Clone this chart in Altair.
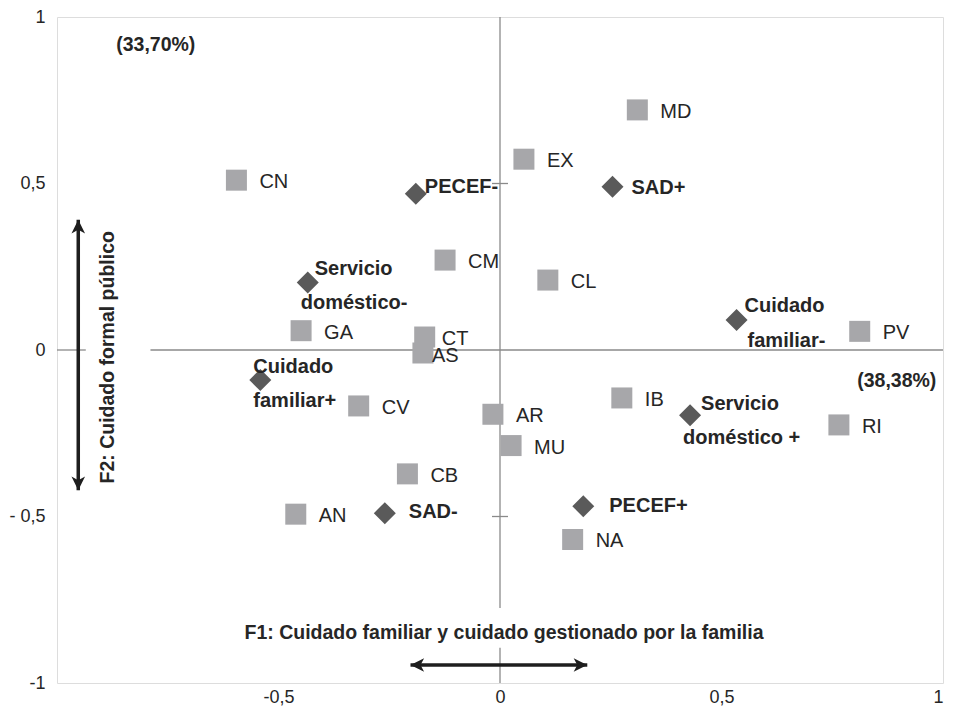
import altair as alt
import pandas as pd

# ---------------- data ----------------
region_codes = ["MD", "EX", "CN", "CM", "CL", "GA", "CT", "AS", "PV",
                "IB", "AR", "CV", "MU", "RI", "CB", "AN", "NA"]
region_f1 = [0.310, 0.054, -0.595, -0.124, 0.108, -0.449, -0.170, -0.174, 0.812,
             0.275, -0.016, -0.319, 0.025, 0.765, -0.209, -0.461, 0.164]
region_f2 = [0.721, 0.573, 0.510, 0.270, 0.210, 0.058, 0.039, -0.009, 0.056,
             -0.144, -0.193, -0.168, -0.287, -0.225, -0.372, -0.493, -0.569]

category_labels = ["PECEF-", "SAD+", "Servicio doméstico-", "Cuidado familiar-",
                   "Cuidado familiar+", "Servicio doméstico +", "SAD-", "PECEF+"]
category_f1 = [-0.190, 0.254, -0.434, 0.534, -0.541, 0.429, -0.260, 0.188]
category_f2 = [0.469, 0.490, 0.203, 0.090, -0.090, -0.196, -0.490, -0.469]

x_ticks = [-0.5, 0, 0.5, 1]
x_tick_labels = ["-0,5", "0", "0,5", "1"]
y_ticks = [-1, -0.5, 0, 0.5, 1]
y_tick_labels = ["-1", "- 0,5", "0", "0,5", "1"]

f1_title = "F1: Cuidado familiar y cuidado gestionado por la familia"
f2_title = "F2: Cuidado formal público"
f1_inertia = "(38,38%)"
f2_inertia = "(33,70%)"

# ---------------- styling / layout ----------------
FONT = "Liberation Sans"
TEXT_COLOR = "#262626"
SQUARE_COLOR = "#A7A7AA"
DIAMOND_COLOR = "#5A5A5A"
LINE_COLOR = "#8a8a8a"
ARROW_COLOR = "#1e1e1e"

# label offsets (px) for the category (diamond) labels, one entry per text line
category_label_offsets = {
    "PECEF-": [(9, -7)],
    "SAD+": [(19, 1)],
    "Servicio doméstico-": [(7, -13), (-7, 21)],
    "Cuidado familiar-": [(8, -14), (11, 21)],
    "Cuidado familiar+": [(-7, -13), (-7, 21)],
    "Servicio doméstico +": [(11, -11), (-7, 23)],
    "SAD-": [(24, -1)],
    "PECEF+": [(26, 0)],
}
region_label_offsets = {"CT": (17, 2), "AS": (9, 3)}
default_region_offset = (23, 2)

# annotation placements (data coordinates)
h_zero_segments = [(-1.0, -0.935), (-0.789, 1.0)]
v_zero_segments = [(1.0, -0.775), (-0.894, -1.0)]
half_ticks = [0.5, -0.5]
v_arrow = {"x": -0.952, "y1": 0.391, "y2": -0.421}
h_arrow = {"y": -0.946, "x1": -0.202, "x2": 0.197}


def label_expr(values, labels):
    expr = "''"
    for v, l in reversed(list(zip(values, labels))):
        expr = f"abs(datum.value - ({v})) < 1e-9 ? '{l}' : ({expr})"
    return expr


xs = alt.Scale(domain=[-1, 1], nice=False, zero=False)
ys = alt.Scale(domain=[-1, 1], nice=False, zero=False)

x_axis = alt.Axis(values=x_ticks, labelExpr=label_expr(x_ticks, x_tick_labels),
                  ticks=False, domain=False, grid=False, title=None,
                  labelFont=FONT, labelFontSize=18, labelColor=TEXT_COLOR,
                  labelPadding=5)
y_axis = alt.Axis(values=y_ticks, labelExpr=label_expr(y_ticks, y_tick_labels),
                  ticks=False, domain=False, grid=False, title=None,
                  labelFont=FONT, labelFontSize=18, labelColor=TEXT_COLOR,
                  labelPadding=12)


def X(field="x"):
    return alt.X(f"{field}:Q", scale=xs, axis=x_axis)


def Y(field="y"):
    return alt.Y(f"{field}:Q", scale=ys, axis=y_axis)


regions = pd.DataFrame({"x": region_f1, "y": region_f2, "label": region_codes})
cats = pd.DataFrame({"x": category_f1, "y": category_f2, "label": category_labels})

layers = []

# zero lines
hz = pd.DataFrame({"x": [a for a, b in h_zero_segments],
                   "x2": [b for a, b in h_zero_segments],
                   "y": [0.0] * len(h_zero_segments)})
layers.append(alt.Chart(hz).mark_rule(color=LINE_COLOR, strokeWidth=1.3)
              .encode(x=X(), x2="x2:Q", y=Y()))
vz = pd.DataFrame({"y": [a for a, b in v_zero_segments],
                   "y2": [b for a, b in v_zero_segments],
                   "x": [0.0] * len(v_zero_segments)})
layers.append(alt.Chart(vz).mark_rule(color=LINE_COLOR, strokeWidth=1.3)
              .encode(x=X(), y=Y(), y2="y2:Q"))
ht = pd.DataFrame({"x": [0.0] * len(half_ticks), "y": half_ticks})
layers.append(alt.Chart(ht).mark_point(shape="M-1,0L1,0", size=256, filled=False,
                                       color=LINE_COLOR, strokeWidth=1.3, opacity=1)
              .encode(x=X(), y=Y()))

# arrows
va = pd.DataFrame({"x": [v_arrow["x"]], "y": [v_arrow["y1"]], "y2": [v_arrow["y2"]]})
layers.append(alt.Chart(va).mark_rule(color=ARROW_COLOR, strokeWidth=3.5)
              .encode(x=X(), y=Y(), y2="y2:Q"))
ha = pd.DataFrame({"y": [h_arrow["y"]], "x": [h_arrow["x1"]], "x2": [h_arrow["x2"]]})
layers.append(alt.Chart(ha).mark_rule(color=ARROW_COLOR, strokeWidth=3.5)
              .encode(x=X(), x2="x2:Q", y=Y()))
heads = [
    (v_arrow["x"], v_arrow["y1"], "M0,0L0.85,1.7L0,1.25L-0.85,1.7Z"),
    (v_arrow["x"], v_arrow["y2"], "M0,0L0.85,-1.7L0,-1.25L-0.85,-1.7Z"),
    (h_arrow["x1"], h_arrow["y"], "M0,0L1.7,-0.85L1.25,0L1.7,0.85Z"),
    (h_arrow["x2"], h_arrow["y"], "M0,0L-1.7,-0.85L-1.25,0L-1.7,0.85Z"),
]
for hx, hy, shape in heads:
    layers.append(alt.Chart(pd.DataFrame({"x": [hx], "y": [hy]}))
                  .mark_point(shape=shape, size=256, filled=True, color=ARROW_COLOR,
                              opacity=1, strokeWidth=0)
                  .encode(x=X(), y=Y()))

# region squares
layers.append(alt.Chart(regions).mark_square(size=441, color=SQUARE_COLOR, opacity=1)
              .encode(x=X(), y=Y()))
# category diamonds
layers.append(alt.Chart(cats).mark_point(shape="diamond", size=484, filled=True,
                                         color=DIAMOND_COLOR, opacity=1)
              .encode(x=X(), y=Y()))

# region labels
groups = {}
for code, fx, fy in zip(region_codes, region_f1, region_f2):
    off = region_label_offsets.get(code, default_region_offset)
    groups.setdefault(off, []).append({"x": fx, "y": fy, "label": code})
for (dx, dy), rows in groups.items():
    layers.append(alt.Chart(pd.DataFrame(rows))
                  .mark_text(align="left", baseline="middle", dx=dx, dy=dy,
                             font=FONT, fontSize=20, color=TEXT_COLOR)
                  .encode(x=X(), y=Y(), text="label:N"))

# category labels (bold, possibly two lines)
for name, fx, fy in zip(category_labels, category_f1, category_f2):
    offsets = category_label_offsets[name]
    lines = name.split(" ", 1) if len(offsets) > 1 else [name]
    for line, (dx, dy) in zip(lines, offsets):
        layers.append(alt.Chart(pd.DataFrame({"x": [fx], "y": [fy], "label": [line]}))
                      .mark_text(align="left", baseline="middle", dx=dx, dy=dy,
                                 font=FONT, fontSize=20, fontWeight="bold",
                                 color=TEXT_COLOR)
                      .encode(x=X(), y=Y(), text="label:N"))

# annotations
ann = [
    (-0.886, -0.022, f2_title, "center", 270),
    (0.009, -0.849, f1_title, "center", 0),
    (-0.777, 0.917, f2_inertia, "center", 0),
    (0.985, -0.093, f1_inertia, "right", 0),
]
for ax_, ay_, txt, al, ang in ann:
    layers.append(alt.Chart(pd.DataFrame({"x": [ax_], "y": [ay_], "label": [txt]}))
                  .mark_text(align=al, baseline="middle", angle=ang, font=FONT,
                             fontSize=19.5, fontWeight="bold", color=TEXT_COLOR)
                  .encode(x=X(), y=Y(), text="label:N"))

chart = (
    alt.layer(*layers)
    .properties(width=886, height=666,
                autosize=alt.AutoSizeParams(type="none"),
                padding={"left": 49, "top": 9, "right": 2, "bottom": 24})
    .configure_view(stroke="#3a3a3a", strokeWidth=1.6)
    .configure(background="white")
)

chart.save("out.html", embed_options={"renderer": "svg", "actions": False})
